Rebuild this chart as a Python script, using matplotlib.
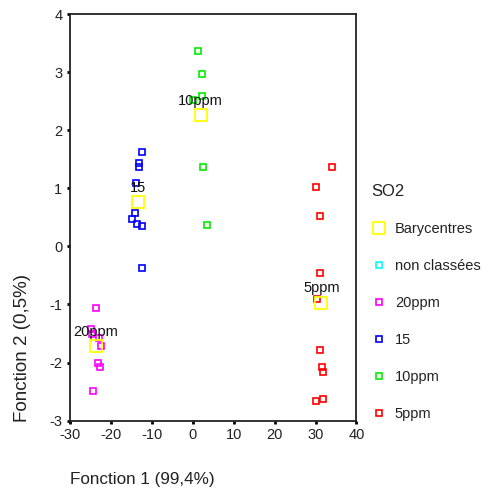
import matplotlib
matplotlib.use("Agg")
import matplotlib.pyplot as plt
from matplotlib.lines import Line2D

plt.rcParams['font.family'] = ['Liberation Sans', 'DejaVu Sans']
plt.rcParams['axes.unicode_minus'] = False

# groups, data
x_5ppm = [34.0, 30.1, 31.2, 31.2, 30.4, 31.2, 31.5, 31.8, 30.1, 31.8]
y_5ppm = [1.37, 1.02, 0.53, -0.46, -0.90, -1.78, -2.08, -2.17, -2.66, -2.63]

x_10ppm = [1.3, 2.3, 2.3, 0.0, 2.6, 3.6]
y_10ppm = [3.36, 2.96, 2.59, 2.52, 1.37, 0.37]

x_15 = [-12.5, -13.1, -13.1, -13.8, -14.0, -14.8, -13.5, -12.5, -12.5]
y_15 = [1.62, 1.44, 1.37, 1.09, 0.58, 0.47, 0.38, 0.35, -0.37]

x_20ppm = [-23.6, -24.8, -24.6, -23.0, -22.3, -23.2, -22.6, -24.3]
y_20ppm = [-1.06, -1.43, -1.51, -1.57, -1.71, -2.01, -2.08, -2.49]

bary_names = ["10ppm", "15", "5ppm", "20ppm"]
bary_x = [1.96, -13.4, 31.4, -23.7]
bary_y = [2.26, 0.76, -0.97, -1.72]

fig = plt.figure(figsize=(4.89, 4.92), dpi=100)
ax = fig.add_axes([0.143, 0.145, 0.586, 0.8265])

ms = 4.5
mew = 1.2
ax.plot(x_5ppm, y_5ppm, 's', mfc='none', mec='#ff0000', ms=ms, mew=mew)
ax.plot(x_10ppm, y_10ppm, 's', mfc='none', mec='#00ee00', ms=ms, mew=mew)
ax.plot(x_15, y_15, 's', mfc='none', mec='#0000ff', ms=ms, mew=mew)
ax.plot(x_20ppm, y_20ppm, 's', mfc='none', mec='#ff00ff', ms=ms, mew=mew)
ax.plot(bary_x, bary_y, 's', mfc='none', mec='#ffff00', ms=8, mew=1.3)

for name, bx, by in zip(bary_names, bary_x, bary_y):
    ax.text(bx, by + 0.18, name, ha='center', va='baseline', fontsize=10.5, color='#111111')

ax.set_xlim(-30, 40)
ax.set_ylim(-3, 4)
ax.set_xticks(range(-30, 41, 10))
ax.set_yticks(range(-3, 5))
ax.tick_params(direction='out', length=2.5, width=2, labelsize=10.5, pad=3,
               labelcolor='#222222')
for s in ax.spines.values():
    s.set_linewidth(1.3)
    s.set_color('#222222')

fig.text(0.143, 0.0244, "Fonction 1 (99,4%)", fontsize=12.3, ha='left', va='center',
         color='#222222')
fig.text(0.046, 0.142, "Fonction 2 (0,5%)", fontsize=13.5, rotation=90, ha='center',
         va='bottom', color='#222222')

handles = [
    Line2D([], [], ls='none', marker='s', mfc='none', mec='#ffff00', ms=8, mew=1.3),
    Line2D([], [], ls='none', marker='s', mfc='none', mec='#00ffff', ms=ms, mew=mew),
    Line2D([], [], ls='none', marker='s', mfc='none', mec='#ff00ff', ms=ms, mew=mew),
    Line2D([], [], ls='none', marker='s', mfc='none', mec='#0000ff', ms=ms, mew=mew),
    Line2D([], [], ls='none', marker='s', mfc='none', mec='#00ee00', ms=ms, mew=mew),
    Line2D([], [], ls='none', marker='s', mfc='none', mec='#ff0000', ms=ms, mew=mew),
]
labels = ["Barycentres", "non classées", "20ppm", "15", "10ppm", "5ppm"]
leg = fig.legend(handles, labels, title="SO2", loc='upper left',
                 bbox_to_anchor=(0.733, 0.653), frameon=False, fontsize=10.5,
                 title_fontsize=12, labelspacing=1.58, handlelength=1.0,
                 handletextpad=0.6)
leg._legend_box.align = "left"
for t in leg.get_texts():
    t.set_color('#222222')
leg.get_title().set_color('#222222')

fig.savefig("out.png", dpi=100)
